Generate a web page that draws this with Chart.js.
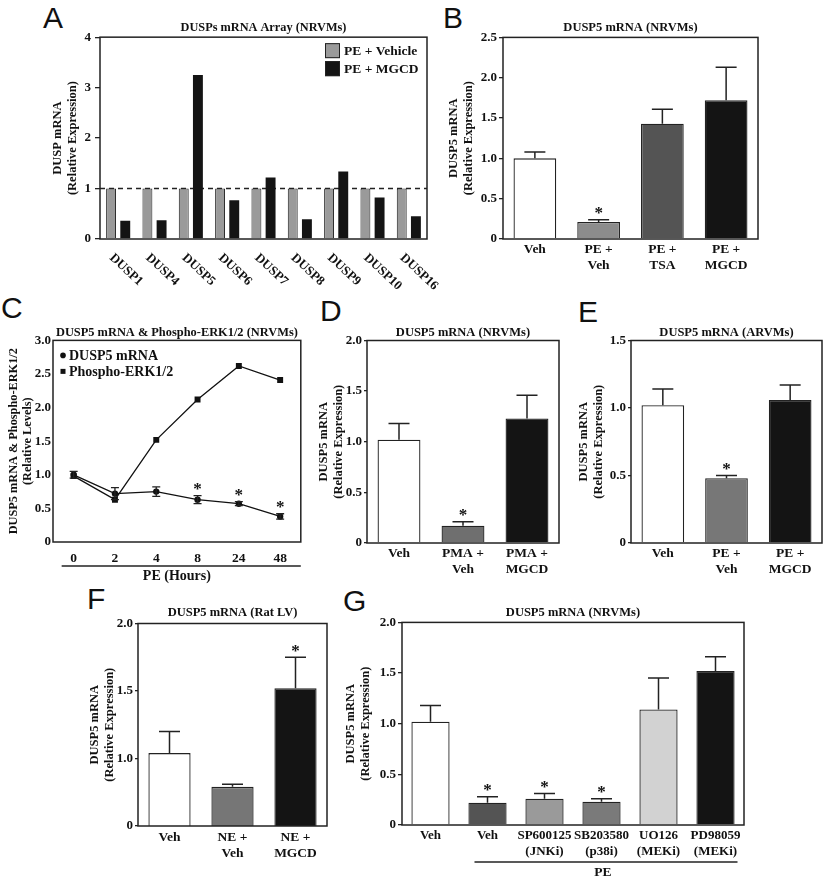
<!DOCTYPE html>
<html>
<head>
<meta charset="utf-8">
<title>DUSP5 mRNA figure</title>
<script src="https://cdn.jsdelivr.net/npm/chart.js@4.4.1/dist/chart.umd.min.js"></script>
<style>
  html, body { margin: 0; padding: 0; background: #fff; }
  body { position: relative; width: 825px; height: 880px; overflow: hidden; }
  .panel { position: absolute; }
  .letter { position: absolute; font-family: 'Liberation Sans', Arial, sans-serif; font-size: 30px; line-height: 30px; color: #111; }
</style>
</head>
<body>
<div class="letter" style="left:43px;top:3px">A</div>
<div class="letter" style="left:443px;top:3px">B</div>
<div class="letter" style="left:1px;top:293px">C</div>
<div class="letter" style="left:320px;top:296px">D</div>
<div class="letter" style="left:578px;top:297px">E</div>
<div class="letter" style="left:87px;top:584px">F</div>
<div class="letter" style="left:343px;top:586px">G</div>

<div class="panel" style="left:0;top:20px;width:452px;height:280px"><canvas id="chart-a"></canvas></div>
<div class="panel" style="left:435px;top:20px;width:328px;height:270px"><canvas id="chart-b"></canvas></div>
<div class="panel" style="left:0;top:325px;width:305px;height:260px"><canvas id="chart-c"></canvas></div>
<div class="panel" style="left:305px;top:325px;width:257px;height:260px"><canvas id="chart-d"></canvas></div>
<div class="panel" style="left:568px;top:325px;width:257px;height:260px"><canvas id="chart-e"></canvas></div>
<div class="panel" style="left:75px;top:605px;width:255px;height:275px"><canvas id="chart-f"></canvas></div>
<div class="panel" style="left:335px;top:605px;width:412px;height:275px"><canvas id="chart-g"></canvas></div>

<script>
// Panel A - DUSPs mRNA array
const aGenes = ['DUSP1', 'DUSP4', 'DUSP5', 'DUSP6', 'DUSP7', 'DUSP8', 'DUSP9', 'DUSP10', 'DUSP16'];
const aVehicle = [1.0, 1.0, 1.0, 1.0, 1.0, 1.0, 1.0, 1.0, 1.0];
const aMgcd = [0.36, 0.37, 3.25, 0.77, 1.22, 0.39, 1.34, 0.82, 0.45];
const aBaseline = 1.0;

// Panel B - DUSP5 mRNA (NRVMs)
const bLabels = ['Veh', ['PE +', 'Veh'], ['PE +', 'TSA'], ['PE +', 'MGCD']];
const bMeans = [1.0, 0.21, 1.43, 1.72];
const bErrors = [0.08, 0.03, 0.18, 0.41];
const bStars = [false, true, false, false];

// Panel C - time course
const cHours = ['0', '2', '4', '8', '24', '48'];
const cDusp5 = [1.0, 0.72, 0.75, 0.63, 0.57, 0.38];
const cDusp5Err = [0.05, 0.09, 0.07, 0.06, 0.03, 0.04];
const cErk = [0.98, 0.63, 1.52, 2.12, 2.62, 2.41];
const cStars = [false, false, false, true, true, true];

// Panel D - PMA
const dLabels = ['Veh', ['PMA +', 'Veh'], ['PMA +', 'MGCD']];
const dMeans = [1.02, 0.17, 1.23];
const dErrors = [0.16, 0.04, 0.23];
const dStars = [false, true, false];

// Panel E - ARVMs
const eLabels = ['Veh', ['PE +', 'Veh'], ['PE +', 'MGCD']];
const eMeans = [1.02, 0.48, 1.06];
const eErrors = [0.12, 0.02, 0.11];
const eStars = [false, true, false];

// Panel F - Rat LV (axis starts at 0.5 but the bottom tick is printed "0")
const fLabels = ['Veh', ['NE +', 'Veh'], ['NE +', 'MGCD']];
const fMeans = [1.04, 0.79, 1.52];
const fErrors = [0.16, 0.02, 0.23];
const fStars = [false, false, true];
const fTickLabels = ['0', '1.0', '1.5', '2.0'];

// Panel G - kinase inhibitors
const gLabels = ['Veh', 'Veh', ['SP600125', '(JNKi)'], ['SB203580', '(p38i)'], ['UO126', '(MEKi)'], ['PD98059', '(MEKi)']];
const gMeans = [1.02, 0.22, 0.26, 0.23, 1.14, 1.52];
const gErrors = [0.16, 0.06, 0.05, 0.03, 0.31, 0.14];
const gStars = [false, true, true, true, false, false];

const INK = '#222';
const SERIF = "'Liberation Serif', 'Times New Roman', serif";

Chart.defaults.font.family = SERIF;
Chart.defaults.font.weight = 'bold';
Chart.defaults.font.size = 13;
Chart.defaults.color = '#111';
Chart.defaults.animation = false;
Chart.defaults.plugins.legend.display = false;
Chart.defaults.plugins.tooltip.enabled = false;

const fmt = v => (v === 0 ? '0' : v.toFixed(1));

function drawStar(ctx, x, errTop) {
    ctx.save();
    ctx.fillStyle = '#111';
    ctx.font = 'bold 17px ' + SERIF;
    ctx.textAlign = 'center';
    ctx.textBaseline = 'middle';
    ctx.fillText('*', x, errTop - 6);
    ctx.restore();
}

// box around the plot area
const frame = {
    id: 'frame',
    afterDatasetsDraw(chart) {
        const { ctx, chartArea: a } = chart;
        ctx.save();
        ctx.strokeStyle = INK;
        ctx.lineWidth = 1.5;
        ctx.strokeRect(a.left, a.top, a.right - a.left, a.bottom - a.top);
        ctx.restore();
    },
};

// upper error bars + stars for the bar panels
function barErrors(errors, stars) {
    return {
        id: 'barErrors',
        afterDatasetsDraw(chart) {
            const { ctx } = chart;
            const ys = chart.scales.y;
            const vals = chart.data.datasets[0].data;
            chart.getDatasetMeta(0).data.forEach((bar, i) => {
                const top = ys.getPixelForValue(vals[i] + errors[i]);
                ctx.save();
                ctx.strokeStyle = INK;
                ctx.lineWidth = 1.5;
                ctx.beginPath();
                ctx.moveTo(bar.x, bar.y);
                ctx.lineTo(bar.x, top);
                ctx.moveTo(bar.x - 10.5, top);
                ctx.lineTo(bar.x + 10.5, top);
                ctx.stroke();
                ctx.restore();
                if (stars[i]) drawStar(ctx, bar.x, top);
            });
        },
    };
}

// two-sided error bars for the line panel
function pointErrors(errors, stars) {
    return {
        id: 'pointErrors',
        afterDatasetsDraw(chart) {
            const { ctx } = chart;
            const ys = chart.scales.y;
            const vals = chart.data.datasets[0].data;
            chart.getDatasetMeta(0).data.forEach((pt, i) => {
                const hi = ys.getPixelForValue(vals[i] + errors[i]);
                const lo = ys.getPixelForValue(vals[i] - errors[i]);
                ctx.save();
                ctx.strokeStyle = INK;
                ctx.lineWidth = 1.3;
                ctx.beginPath();
                ctx.moveTo(pt.x, lo); ctx.lineTo(pt.x, hi);
                ctx.moveTo(pt.x - 4, hi); ctx.lineTo(pt.x + 4, hi);
                ctx.moveTo(pt.x - 4, lo); ctx.lineTo(pt.x + 4, lo);
                ctx.stroke();
                ctx.restore();
                if (stars[i]) drawStar(ctx, pt.x, hi);
            });
        },
    };
}

function barPanel(id, d, l) {
    return new Chart(document.getElementById(id), {
        type: 'bar',
        data: {
            labels: d.labels,
            datasets: [{
                data: d.means,
                backgroundColor: d.colors,
                borderColor: INK,
                borderWidth: 1.3,
                barPercentage: 0.67,
                categoryPercentage: 1,
            }],
        },
        options: {
            responsive: true,
            maintainAspectRatio: false,
            layout: { padding: { left: 0, right: l.padRight, top: 0, bottom: 0 } },
            plugins: {
                title: {
                    display: true,
                    text: d.title,
                    fullSize: false,
                    font: { size: 12.5 },
                    padding: { top: 0, bottom: l.titleGap },
                },
            },
            scales: {
                x: {
                    afterFit: s => { s.height = l.xHeight; },
                    grid: { display: false, drawTicks: false },
                    border: { display: false },
                    ticks: { padding: l.labelPad, font: { size: l.labelSize || 13.5 }, maxRotation: 0, minRotation: 0, autoSkip: false },
                },
                y: {
                    min: d.min,
                    max: d.max,
                    afterFit: s => { s.width = l.yWidth; },
                    ticks: { stepSize: 0.5, padding: l.tickPad, callback: d.tick || fmt },
                    grid: { drawOnChartArea: false, tickLength: l.tickLen, color: INK, lineWidth: 1.3 },
                    border: { display: false },
                    title: {
                        display: true,
                        text: ['DUSP5 mRNA', '(Relative Expression)'],
                        font: { size: 12.5 },
                        padding: { top: l.yTitlePad, bottom: 0 },
                    },
                },
            },
        },
        plugins: [frame, barErrors(d.errors, d.stars)].concat(d.extra || []),
    });
}

// ---------- Panel A ----------
const dashedBaseline = {
    id: 'dashedBaseline',
    beforeDatasetsDraw(chart) {
        const { ctx, chartArea: a } = chart;
        const y = chart.scales.y.getPixelForValue(aBaseline);
        ctx.save();
        ctx.strokeStyle = INK;
        ctx.lineWidth = 1.5;
        ctx.setLineDash([5, 4]);
        ctx.beginPath();
        ctx.moveTo(a.left, y);
        ctx.lineTo(a.right, y);
        ctx.stroke();
        ctx.restore();
    },
};

const slantedLabels = {
    id: 'slantedLabels',
    afterDraw(chart) {
        const { ctx } = chart;
        const xs = chart.scales.x;
        ctx.save();
        ctx.font = 'bold 13px ' + SERIF;
        ctx.fillStyle = '#111';
        ctx.textAlign = 'left';
        ctx.textBaseline = 'middle';
        chart.data.labels.forEach((lab, i) => {
            ctx.save();
            ctx.translate(xs.getPixelForValue(i) - 7, xs.top + 17);
            ctx.rotate(43 * Math.PI / 180);
            ctx.fillText(lab, 0, 0);
            ctx.restore();
        });
        ctx.restore();
    },
};

const boxLegend = {
    id: 'boxLegend',
    afterDraw(chart) {
        const { ctx, chartArea: a } = chart;
        ctx.save();
        ctx.font = 'bold 13.5px ' + SERIF;
        ctx.textBaseline = 'middle';
        chart.data.datasets.forEach((ds, i) => {
            const x = a.right - 102;
            const y = a.top + 6 + i * 18;
            ctx.fillStyle = ds.backgroundColor;
            ctx.fillRect(x, y, 15, 15);
            ctx.strokeStyle = INK;
            ctx.lineWidth = 1;
            ctx.strokeRect(x + 0.5, y + 0.5, 14, 14);
            ctx.fillStyle = '#111';
            ctx.fillText(ds.label, x + 19, y + 8);
        });
        ctx.restore();
    },
};

new Chart(document.getElementById('chart-a'), {
    type: 'bar',
    data: {
        labels: aGenes,
        datasets: [
            { label: 'PE + Vehicle', data: aVehicle, backgroundColor: '#9a9a9a', borderColor: INK, borderWidth: 1, barPercentage: 0.7, categoryPercentage: 0.78 },
            { label: 'PE + MGCD', data: aMgcd, backgroundColor: '#141414', borderWidth: 0, barPercentage: 0.7, categoryPercentage: 0.78 },
        ],
    },
    options: {
        responsive: true,
        maintainAspectRatio: false,
        layout: { padding: { left: 0, right: 25, top: 0, bottom: 0 } },
        plugins: {
            title: { display: true, text: 'DUSPs mRNA Array (NRVMs)', fullSize: false, font: { size: 12.3 }, padding: { top: 0, bottom: 2.4 } },
        },
        scales: {
            x: {
                afterFit: s => { s.height = 61; },
                grid: { display: false, drawTicks: false },
                border: { display: false },
                ticks: { display: false },
            },
            y: {
                min: 0,
                max: 4,
                afterFit: s => { s.width = 100; },
                ticks: { stepSize: 1, padding: 4, callback: v => String(v) },
                grid: { drawOnChartArea: false, tickLength: 5, color: INK, lineWidth: 1.3 },
                border: { display: false },
                title: { display: true, text: ['DUSP mRNA', '(Relative Expression)'], font: { size: 12.5 }, padding: { top: 50, bottom: 0 } },
            },
        },
    },
    plugins: [dashedBaseline, frame, slantedLabels, boxLegend],
});

// ---------- Panel B ----------
barPanel('chart-b', {
    title: 'DUSP5 mRNA (NRVMs)', labels: bLabels, means: bMeans, errors: bErrors, stars: bStars,
    colors: ['#ffffff', '#8c8c8c', '#545454', '#141414'], min: 0, max: 2.5,
}, { padRight: 5, yWidth: 68, yTitlePad: 11, xHeight: 51, titleGap: 2.4, tickLen: 4, tickPad: 2, labelPad: 2 });

// ---------- Panel C ----------
const dotLegend = {
    id: 'dotLegend',
    afterDraw(chart) {
        const { ctx, chartArea: a } = chart;
        ctx.save();
        ctx.font = 'bold 14px ' + SERIF;
        ctx.textBaseline = 'middle';
        ctx.fillStyle = '#111';
        chart.data.datasets.forEach((ds, i) => {
            const x = a.left + 10;
            const y = a.top + 15 + i * 16;
            if (ds.pointStyle === 'rect') {
                ctx.fillRect(x - 2.5, y - 2.5, 5, 5);
            } else {
                ctx.beginPath();
                ctx.arc(x, y, 2.8, 0, Math.PI * 2);
                ctx.fill();
            }
            ctx.fillText(ds.label, x + 6, y + 1);
        });
        ctx.restore();
    },
};

const hoursRule = {
    id: 'hoursRule',
    afterDraw(chart) {
        const { ctx, chartArea: a } = chart;
        const xs = chart.scales.x;
        const y = a.bottom + 24;
        ctx.save();
        ctx.strokeStyle = INK;
        ctx.lineWidth = 1.5;
        ctx.beginPath();
        ctx.moveTo(xs.getPixelForValue(0) - 12, y);
        ctx.lineTo(a.right, y);
        ctx.stroke();
        ctx.restore();
    },
};

new Chart(document.getElementById('chart-c'), {
    type: 'line',
    data: {
        labels: cHours,
        datasets: [
            { label: 'DUSP5 mRNA', data: cDusp5, borderColor: '#111', borderWidth: 1.3, pointStyle: 'circle', pointRadius: 3.2, pointBackgroundColor: '#111', pointBorderWidth: 0 },
            { label: 'Phospho-ERK1/2', data: cErk, borderColor: '#111', borderWidth: 1.3, pointStyle: 'rect', pointRadius: 4.2, pointBackgroundColor: '#111', pointBorderWidth: 0 },
        ],
    },
    options: {
        responsive: true,
        maintainAspectRatio: false,
        layout: { padding: { left: 0, right: 3, top: 0, bottom: 0 } },
        plugins: {
            title: { display: true, text: 'DUSP5 mRNA & Phospho-ERK1/2 (NRVMs)', fullSize: false, font: { size: 12.4 }, padding: { top: 0, bottom: 0.5 } },
        },
        scales: {
            x: {
                offset: true,
                afterFit: s => { s.height = 43; },
                grid: { display: false, drawTicks: false },
                border: { display: false },
                ticks: { padding: 8, font: { size: 13.5 }, maxRotation: 0, autoSkip: false },
                title: { display: true, text: 'PE (Hours)', font: { size: 14 }, padding: { top: 0, bottom: 0.6 } },
            },
            y: {
                min: 0,
                max: 3,
                afterFit: s => { s.width = 53; },
                ticks: { stepSize: 0.5, padding: 2, callback: fmt },
                grid: { drawOnChartArea: false, drawTicks: false, color: INK },
                border: { display: false },
                title: { display: true, text: ['DUSP5 mRNA & Phospho-ERK1/2', '(Relative Levels)'], font: { size: 12.3 }, padding: { top: 6, bottom: 0 } },
            },
        },
    },
    plugins: [frame, pointErrors(cDusp5Err, cStars), dotLegend, hoursRule],
});

// ---------- Panel D ----------
barPanel('chart-d', {
    title: 'DUSP5 mRNA (NRVMs)', labels: dLabels, means: dMeans, errors: dErrors, stars: dStars,
    colors: ['#ffffff', '#6f6f6f', '#141414'], min: 0, max: 2,
}, { padRight: 3, yWidth: 62, yTitlePad: 11, xHeight: 42, titleGap: 0.5, tickLen: 3, tickPad: 2, labelPad: 2 });

// ---------- Panel E ----------
barPanel('chart-e', {
    title: 'DUSP5 mRNA (ARVMs)', labels: eLabels, means: eMeans, errors: eErrors, stars: eStars,
    colors: ['#ffffff', '#777777', '#141414'], min: 0, max: 1.5,
}, { padRight: 3, yWidth: 63, yTitlePad: 8, xHeight: 42, titleGap: 0.5, tickLen: 3, tickPad: 2, labelPad: 2 });

// ---------- Panel F ----------
barPanel('chart-f', {
    title: 'DUSP5 mRNA (Rat LV)', labels: fLabels, means: fMeans, errors: fErrors, stars: fStars,
    colors: ['#ffffff', '#767676', '#141414'], min: 0.5, max: 2,
    tick: (v, i) => fTickLabels[i],
}, { padRight: 3, yWidth: 63, yTitlePad: 12, xHeight: 54, titleGap: 3.5, tickLen: 3, tickPad: 2, labelPad: 3 });

// ---------- Panel G ----------
const peBracket = {
    id: 'peBracket',
    afterDraw(chart) {
        const { ctx, chartArea: a } = chart;
        const xs = chart.scales.x;
        const x0 = xs.getPixelForValue(1) - 13;
        const x1 = xs.getPixelForValue(5) + 22;
        const y = a.bottom + 37;
        ctx.save();
        ctx.strokeStyle = INK;
        ctx.lineWidth = 1.5;
        ctx.beginPath();
        ctx.moveTo(x0, y);
        ctx.lineTo(x1, y);
        ctx.stroke();
        ctx.fillStyle = '#111';
        ctx.font = 'bold 13.5px ' + SERIF;
        ctx.textAlign = 'center';
        ctx.textBaseline = 'middle';
        ctx.fillText('PE', (x0 + x1) / 2 - 3, y + 11);
        ctx.restore();
    },
};

barPanel('chart-g', {
    title: 'DUSP5 mRNA (NRVMs)', labels: gLabels, means: gMeans, errors: gErrors, stars: gStars,
    colors: ['#ffffff', '#545454', '#9a9a9a', '#7a7a7a', '#d2d2d2', '#141414'], min: 0, max: 2,
    extra: [peBracket],
}, { padRight: 3, yWidth: 67, yTitlePad: 8, xHeight: 55, titleGap: 2.4, tickLen: 4, tickPad: 2, labelPad: 3, labelSize: 13 });
</script>
</body>
</html>
